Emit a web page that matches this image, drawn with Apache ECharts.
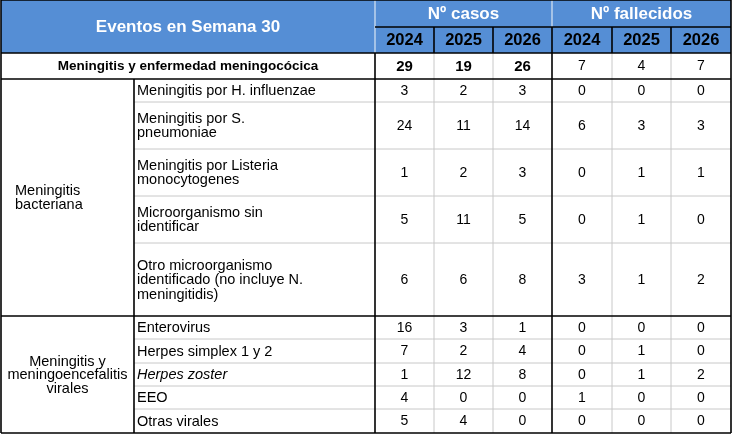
<!DOCTYPE html>
<html>
<head>
<meta charset="utf-8">
<script src="https://cdn.jsdelivr.net/npm/echarts@6/dist/echarts.min.js"></script>
<style>
  html, body { margin: 0; padding: 0; background: #ffffff; }
  #chart { width: 733px; height: 441px; }
</style>
</head>
<body>
<div id="chart"></div>
<script>
// ---------- data ----------
const title = 'Eventos en Semana 30';
const measures = ['Nº casos', 'Nº fallecidos'];
const years = ['2024', '2025', '2026'];
const totalLabel = 'Meningitis y enfermedad meningocócica';
const totalCasos = [29, 19, 26];
const totalFallecidos = [7, 4, 7];
const groups = ['Meningitis\nbacteriana', 'Meningitis y\nmeningoencefalitis\nvirales'];
const groupSizes = [5, 5];
const subcategories = [
  'Meningitis por H. influenzae',
  'Meningitis por S.\npneumoniae',
  'Meningitis por Listeria\nmonocytogenes',
  'Microorganismo sin\nidentificar',
  'Otro microorganismo\nidentificado (no incluye N.\nmeningitidis)',
  'Enterovirus',
  'Herpes simplex 1 y 2',
  'Herpes zoster',
  'EEO',
  'Otras virales'
];
const italicSubcategories = ['Herpes zoster'];
const casos2024 = [3, 24, 1, 5, 6, 16, 7, 1, 4, 5];
const casos2025 = [2, 11, 2, 11, 6, 3, 2, 12, 0, 4];
const casos2026 = [3, 14, 3, 5, 8, 1, 4, 8, 0, 0];
const fallecidos2024 = [0, 6, 0, 0, 3, 0, 0, 0, 1, 0];
const fallecidos2025 = [0, 3, 1, 1, 1, 0, 1, 1, 0, 0];
const fallecidos2026 = [0, 3, 1, 0, 2, 0, 0, 2, 0, 0];

// ---------- layout (table grid in axis units) ----------
const colEdges = [1, 134, 375, 434, 493, 552, 612, 671, 731];
const rowEdges = [0, 27, 53, 79, 102, 149, 196, 243, 316, 339, 363, 386, 409, 433];
const HEADER_BLUE = '#558ED5';
const FONT = 'Liberation Sans, Arial, sans-serif';

const valueCols = [casos2024, casos2025, casos2026, fallecidos2024, fallecidos2025, fallecidos2026];
const totals = totalCasos.concat(totalFallecidos);

// cells
const cells = [];
cells.push({c0: 0, c1: 2, r0: 0, r1: 2, text: title, kind: 'hTitle'});
measures.forEach((m, i) => {
  cells.push({c0: 2 + i * 3, c1: 5 + i * 3, r0: 0, r1: 1, text: m, kind: 'hTitle'});
  years.forEach((y, j) => {
    cells.push({c0: 2 + i * 3 + j, c1: 3 + i * 3 + j, r0: 1, r1: 2, text: y, kind: 'hYear'});
  });
});
cells.push({c0: 0, c1: 2, r0: 2, r1: 3, text: totalLabel, kind: 'total'});
totals.forEach((v, k) => {
  cells.push({c0: 2 + k, c1: 3 + k, r0: 2, r1: 3, text: String(v), kind: k < 3 ? 'totalNum' : 'num'});
});
let r = 3;
groups.forEach((g, gi) => {
  cells.push({c0: 0, c1: 1, r0: r, r1: r + groupSizes[gi], text: g, kind: gi === 0 ? 'groupLeft' : 'groupCenter'});
  r += groupSizes[gi];
});
subcategories.forEach((s, i) => {
  cells.push({c0: 1, c1: 2, r0: 3 + i, r1: 4 + i, text: s,
    kind: italicSubcategories.indexOf(s) >= 0 ? 'subItalic' : 'sub'});
  valueCols.forEach((col, k) => {
    cells.push({c0: 2 + k, c1: 3 + k, r0: 3 + i, r1: 4 + i, text: String(col[i]), kind: 'num'});
  });
});

// borders
const borders = [];
function hLine(r, c0, c1, kind) { borders.push({x0: colEdges[c0], y0: rowEdges[r], x1: colEdges[c1], y1: rowEdges[r], kind}); }
function vLine(c, r0, r1, kind) { borders.push({x0: colEdges[c], y0: rowEdges[r0], x1: colEdges[c], y1: rowEdges[r1], kind}); }
[4, 5, 6, 7, 9, 10, 11, 12].forEach(rr => hLine(rr, 1, 8, 'gray'));
[3, 4, 6, 7].forEach(cc => vLine(cc, 2, 13, 'gray'));
vLine(2, 0, 2, 'light');
vLine(5, 0, 1, 'light');
hLine(1, 2, 8, 'dark');
[3, 4, 6, 7].forEach(cc => vLine(cc, 1, 2, 'dark'));
vLine(5, 1, 13, 'dark');
vLine(2, 2, 13, 'dark');
vLine(1, 3, 13, 'dark');
hLine(2, 0, 8, 'dark');
hLine(3, 0, 8, 'dark');
hLine(8, 0, 8, 'dark');
hLine(0, 0, 8, 'dark');
hLine(13, 0, 8, 'dark');
vLine(0, 0, 13, 'dark');
vLine(8, 0, 13, 'dark');

const textStyles = {
  hTitle: {fontSize: 17, fontWeight: 'bold', fill: '#ffffff', align: 'center'},
  hYear: {fontSize: 16.5, fontWeight: 'bold', fill: '#000000', align: 'center'},
  total: {fontSize: 13.5, fontWeight: 'bold', fill: '#000000', align: 'center'},
  totalNum: {fontSize: 15, fontWeight: 'bold', fill: '#000000', align: 'center'},
  num: {fontSize: 14, fontWeight: 'normal', fill: '#000000', align: 'center'},
  sub: {fontSize: 14.5, fontWeight: 'normal', fill: '#000000', align: 'left', lineHeight: 14.5},
  subItalic: {fontSize: 14.5, fontWeight: 'normal', fontStyle: 'italic', fill: '#000000', align: 'left', lineHeight: 14.5},
  groupLeft: {fontSize: 14.5, fontWeight: 'normal', fill: '#000000', align: 'left', lineHeight: 14},
  groupCenter: {fontSize: 14.5, fontWeight: 'normal', fill: '#000000', align: 'center', lineHeight: 13.5}
};
const lineStyles = {
  gray: {stroke: '#c8c8c8', lineWidth: 1},
  light: {stroke: '#dbe6f4', lineWidth: 1.2},
  dark: {stroke: '#000000', lineWidth: 1.6}
};

const cellData = cells.map(c => [colEdges[c.c0], rowEdges[c.r0], colEdges[c.c1], rowEdges[c.r1]]);
const borderData = borders.map(b => [b.x0, b.y0, b.x1, b.y1]);

const chart = echarts.init(document.getElementById('chart'), null, {renderer: 'canvas'});
chart.setOption({
  backgroundColor: '#ffffff',
  animation: false,
  grid: {left: 0, right: 0, top: 0, bottom: 0},
  xAxis: {type: 'value', min: 0, max: 733, show: false},
  yAxis: {type: 'value', min: 0, max: 441, inverse: true, show: false},
  series: [
    {
      type: 'custom',
      coordinateSystem: 'cartesian2d',
      data: cellData,
      silent: true,
      renderItem: function (params, api) {
        const c = cells[params.dataIndex];
        const p0 = api.coord([api.value(0), api.value(1)]);
        const p1 = api.coord([api.value(2), api.value(3)]);
        const isHeader = c.kind === 'hTitle' || c.kind === 'hYear';
        const ts = textStyles[c.kind];
        let tx;
        if (c.kind === 'sub' || c.kind === 'subItalic') tx = p0[0] + 3;
        else if (c.kind === 'groupLeft') tx = p0[0] + 14;
        else tx = (p0[0] + p1[0]) / 2;
        return {
          type: 'group',
          children: [
            {type: 'rect', shape: {x: p0[0], y: p0[1], width: p1[0] - p0[0], height: p1[1] - p0[1]},
             style: {fill: isHeader ? HEADER_BLUE : '#ffffff'}},
            {type: 'text', x: tx, y: (p0[1] + p1[1]) / 2 + 0.5,
             style: Object.assign({text: c.text, fontFamily: FONT, verticalAlign: 'middle'}, ts)}
          ]
        };
      }
    },
    {
      type: 'custom',
      coordinateSystem: 'cartesian2d',
      data: borderData,
      silent: true,
      renderItem: function (params, api) {
        const b = borders[params.dataIndex];
        const p0 = api.coord([api.value(0), api.value(1)]);
        const p1 = api.coord([api.value(2), api.value(3)]);
        return {type: 'line', shape: {x1: p0[0], y1: p0[1], x2: p1[0], y2: p1[1]},
                style: Object.assign({}, lineStyles[b.kind])};
      }
    }
  ]
});
</script>
</body>
</html>
